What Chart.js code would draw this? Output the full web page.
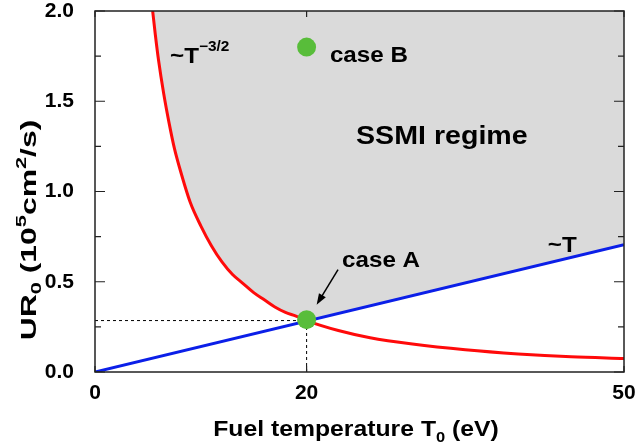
<!DOCTYPE html>
<html>
<head>
<meta charset="utf-8">
<script src="https://cdn.jsdelivr.net/npm/chart.js@4.4.1/dist/chart.umd.min.js"></script>
<style>
  html, body { margin: 0; padding: 0; background: #fff; }
  #wrap { width: 637px; height: 447px; }
</style>
</head>
<body>
<div id="wrap"><canvas id="chart"></canvas></div>
<script>
// values
const tempRed = [5.45, 5.7, 6, 6.5, 7, 7.5, 8, 9, 10, 11, 12, 13, 14, 15, 16, 17, 18, 19, 20, 23, 26, 30, 35, 40, 45, 50];
const urRed = [2.0, 1.87, 1.73, 1.54, 1.38, 1.24, 1.13, 0.94, 0.81, 0.70, 0.61, 0.54, 0.49, 0.44, 0.40, 0.36, 0.33, 0.31, 0.285, 0.23, 0.19, 0.155, 0.123, 0.10, 0.084, 0.075];
const tempBlue = [0, 50];
const urBlue = [0, 0.705];
const caseNames = ["case A", "case B"];
const caseTemp = [20, 20];
const caseUR = [0.29, 1.80];
const guideUR = 0.285;   // dotted guide lines to case A
const xTicks = [0, 20, 50];
const yTicks = [0, 0.5, 1.0, 1.5, 2.0];
const yMinorTicks = [0.25, 0.75, 1.25, 1.75];

const FONT = '"Liberation Sans", Arial, Helvetica, sans-serif';

const pts = (xs, ys) => xs.map((x, i) => ({ x: x, y: ys[i] }));

// draw a row of text pieces (for sub/superscripts); sx widens the row
function drawRuns(ctx, runs, x, y, align, sx) {
    ctx.save();
    ctx.translate(x, y);
    ctx.scale(sx || 1.1, 1);
    let w = 0;
    runs.forEach(r => {
        ctx.font = `bold ${r.s}px ${FONT}`;
        w += ctx.measureText(r.t).width;
    });
    let cx = align === "center" ? -w / 2 : 0;
    ctx.fillStyle = "#000";
    ctx.textBaseline = "alphabetic";
    ctx.textAlign = "left";
    runs.forEach(r => {
        ctx.font = `bold ${r.s}px ${FONT}`;
        ctx.fillText(r.t, cx, r.dy || 0);
        cx += ctx.measureText(r.t).width;
    });
    ctx.restore();
}

const decorPlugin = {
    id: "decor",
    afterDatasetsDraw(chart) {
        const ctx = chart.ctx;
        const xs = chart.scales.x, ys = chart.scales.y;
        const a = chart.chartArea;
        const px = v => xs.getPixelForValue(v);
        const py = v => ys.getPixelForValue(v);

        // frame
        ctx.save();
        ctx.strokeStyle = "#222";
        ctx.lineWidth = 1.5;
        ctx.strokeRect(a.left, a.top, a.right - a.left, a.bottom - a.top);

        // inward ticks on both sides
        ctx.lineWidth = 1.2;
        ctx.beginPath();
        yTicks.forEach(v => {
            ctx.moveTo(a.left, py(v)); ctx.lineTo(a.left + 10, py(v));
            ctx.moveTo(a.right, py(v)); ctx.lineTo(a.right - 10, py(v));
        });
        yMinorTicks.forEach(v => {
            ctx.moveTo(a.left, py(v)); ctx.lineTo(a.left + 6, py(v));
            ctx.moveTo(a.right, py(v)); ctx.lineTo(a.right - 6, py(v));
        });
        xTicks.forEach(v => {
            ctx.moveTo(px(v), a.bottom); ctx.lineTo(px(v), a.bottom - 6);
            ctx.moveTo(px(v), a.top); ctx.lineTo(px(v), a.top + 6);
        });
        ctx.stroke();

        // arrow to case A
        const x1 = px(22.97), y1 = py(0.567);
        const x2 = px(20.95), y2 = py(0.373);
        const ang = Math.atan2(y2 - y1, x2 - x1);
        ctx.strokeStyle = "#000";
        ctx.lineWidth = 1.5;
        ctx.beginPath();
        ctx.moveTo(x1, y1);
        ctx.lineTo(x2 - 8 * Math.cos(ang), y2 - 8 * Math.sin(ang));
        ctx.stroke();
        ctx.fillStyle = "#000";
        ctx.beginPath();
        ctx.moveTo(x2, y2);
        ctx.lineTo(x2 - 11 * Math.cos(ang) + 4 * Math.sin(ang), y2 - 11 * Math.sin(ang) - 4 * Math.cos(ang));
        ctx.lineTo(x2 - 11 * Math.cos(ang) - 4 * Math.sin(ang), y2 - 11 * Math.sin(ang) + 4 * Math.cos(ang));
        ctx.closePath();
        ctx.fill();
        ctx.restore();

        // annotations
        drawRuns(ctx, [{ t: "~T", s: 22 }, { t: "\u22123/2", s: 14, dy: -12 }], px(7.09), py(1.712), "left");
        drawRuns(ctx, [{ t: caseNames[1], s: 22 }], px(22.2), py(1.72), "left");
        drawRuns(ctx, [{ t: "SSMI regime", s: 26 }], px(24.67), py(1.264), "left");
        drawRuns(ctx, [{ t: caseNames[0], s: 22 }], px(23.35), py(0.584), "left");
        drawRuns(ctx, [{ t: "~T", s: 22 }], px(42.8), py(0.667), "left");

        // axis titles
        drawRuns(ctx, [
            { t: "Fuel temperature T", s: 22.5 },
            { t: "0", s: 15, dy: 6 },
            { t: " (eV)", s: 22.5 }
        ], 356, 436, "center", 1.1);

        ctx.save();
        ctx.translate(29, 230);
        ctx.rotate(-Math.PI / 2);
        drawRuns(ctx, [
            { t: "UR", s: 22 },
            { t: "0", s: 15, dy: 5 },
            { t: " (10", s: 22 },
            { t: "5", s: 15, dy: -10 },
            { t: "cm", s: 22 },
            { t: "2", s: 15, dy: -10 },
            { t: "/s)", s: 22 }
        ], 0, 7, "center", 1.45);
        ctx.restore();
    }
};

new Chart(document.getElementById("chart"), {
    type: "line",
    data: {
        datasets: [
            {   // cases A and B
                data: pts(caseTemp, caseUR),
                showLine: false,
                pointRadius: 9.5,
                pointHoverRadius: 9.5,
                pointBackgroundColor: "#58bd3a",
                pointBorderWidth: 0
            },
            {   // ~T
                data: pts(tempBlue, urBlue),
                borderColor: "#0b1fe8",
                borderWidth: 3,
                pointRadius: 0
            },
            {   // ~T^-3/2
                data: pts(tempRed, urRed),
                borderColor: "#ff0a0a",
                borderWidth: 3,
                pointRadius: 0,
                cubicInterpolationMode: "monotone"
            },
            {   // dotted guide, horizontal
                data: [{ x: 0, y: guideUR }, { x: caseTemp[0], y: guideUR }],
                borderColor: "#000",
                borderWidth: 1,
                borderDash: [3, 3],
                pointRadius: 0
            },
            {   // dotted guide, vertical
                data: [{ x: caseTemp[0], y: 0 }, { x: caseTemp[0], y: guideUR }],
                borderColor: "#000",
                borderWidth: 1,
                borderDash: [3, 3],
                pointRadius: 0
            },
            {   // clear everything below ~T
                data: pts(tempBlue, urBlue),
                borderWidth: 0,
                pointRadius: 0,
                fill: "start",
                backgroundColor: "#fff"
            },
            {   // SSMI regime: above ~T^-3/2
                data: pts(tempRed, urRed),
                borderWidth: 0,
                pointRadius: 0,
                cubicInterpolationMode: "monotone",
                fill: "end",
                backgroundColor: "#dadada"
            }
        ]
    },
    options: {
        responsive: true,
        maintainAspectRatio: false,
        animation: false,
        events: [],
        layout: { padding: { left: 0, right: 13, top: 11, bottom: 0 } },
        plugins: { legend: { display: false }, tooltip: { enabled: false } },
        scales: {
            x: {
                type: "linear",
                min: 0,
                max: 50,
                grid: { display: false },
                border: { display: false },
                afterBuildTicks: s => { s.ticks = xTicks.map(v => ({ value: v })); },
                afterFit: s => { s.height = 75; s.paddingLeft = 0; s.paddingRight = 0; },
                ticks: {
                    padding: 3,
                    color: "#000",
                    font: { family: FONT, size: 21, weight: "bold", lineHeight: 1.0 }
                }
            },
            y: {
                min: 0,
                max: 2,
                grid: { display: false },
                border: { display: false },
                afterBuildTicks: s => { s.ticks = yTicks.map(v => ({ value: v })); },
                afterFit: s => { s.width = 95; s.paddingTop = 0; s.paddingBottom = 0; },
                ticks: {
                    padding: 13,
                    color: "#000",
                    font: { family: FONT, size: 21, weight: "bold", lineHeight: 1.0 },
                    callback: v => v.toFixed(1)
                }
            }
        }
    },
    plugins: [decorPlugin]
});
</script>
</body>
</html>
